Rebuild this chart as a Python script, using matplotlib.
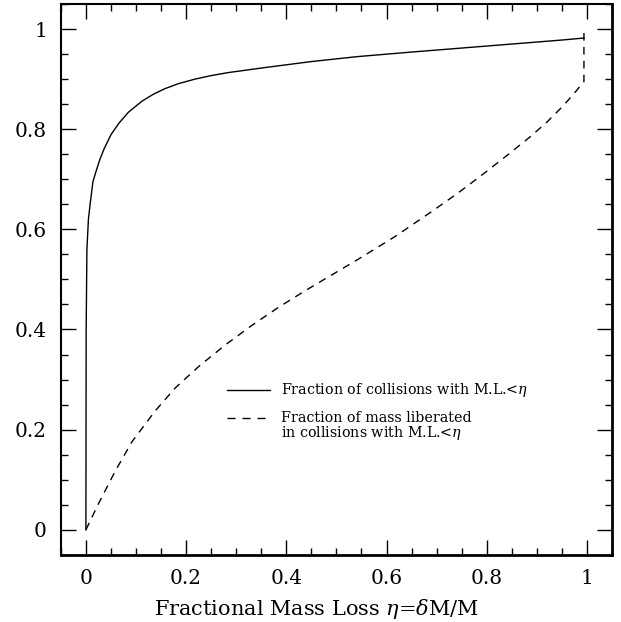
import matplotlib
matplotlib.use("Agg")
import matplotlib.pyplot as plt
from matplotlib.lines import Line2D
from matplotlib.ticker import MultipleLocator

# cumulative fraction of collisions with mass loss < eta
eta_coll = [0, 0.0005, 0.002, 0.005, 0.008, 0.014, 0.02, 0.028, 0.036, 0.05,
            0.066, 0.085, 0.112, 0.135, 0.158, 0.185, 0.218, 0.25, 0.284,
            0.357, 0.45, 0.543, 0.65, 0.75, 0.85, 0.95, 0.994]
frac_coll = [0, 0.40, 0.56, 0.62, 0.647, 0.695, 0.715, 0.74, 0.76, 0.789,
             0.812, 0.834, 0.856, 0.870, 0.881, 0.891, 0.900, 0.907, 0.913,
             0.923, 0.935, 0.945, 0.954, 0.962, 0.970, 0.978, 0.982]

# cumulative fraction of mass liberated in collisions with mass loss < eta
eta_mass = [0, 0.026, 0.059, 0.092, 0.138, 0.178, 0.225, 0.278, 0.331, 0.384,
            0.437, 0.479, 0.543, 0.616, 0.688, 0.742, 0.795, 0.841, 0.887,
            0.920, 0.954, 0.980, 0.994, 0.994]
frac_mass = [0, 0.054, 0.118, 0.176, 0.237, 0.283, 0.326, 0.369, 0.408, 0.444,
             0.477, 0.502, 0.540, 0.585, 0.634, 0.672, 0.712, 0.748, 0.785,
             0.814, 0.848, 0.878, 0.895, 1.0]

LABEL_COLL = r"Fraction of collisions with M.L.<$\eta$"
LABEL_MASS = ["Fraction of mass liberated", r"in collisions with M.L.<$\eta$"]

DASH = (0, (5.5, 4.5))

plt.rcParams["font.family"] = ["DejaVu Serif"]
plt.rcParams["mathtext.fontset"] = "dejavuserif"

fig = plt.figure(figsize=(6.21, 6.22), dpi=100)
ax = fig.add_axes([0.098, 0.108, 0.8875, 0.8856])

ax.plot(eta_coll, frac_coll, color="black", lw=1.0)
ax.plot(eta_mass, frac_mass, color="black", lw=1.0, ls=DASH)

ax.set_xlim(-0.05, 1.05)
ax.set_ylim(-0.05, 1.05)
ax.xaxis.set_major_locator(MultipleLocator(0.2))
ax.xaxis.set_minor_locator(MultipleLocator(0.05))
ax.yaxis.set_major_locator(MultipleLocator(0.2))
ax.yaxis.set_minor_locator(MultipleLocator(0.05))
ax.xaxis.set_major_formatter(plt.FuncFormatter(lambda v, p: f"{v:g}"))
ax.yaxis.set_major_formatter(plt.FuncFormatter(lambda v, p: f"{v:g}"))
ax.tick_params(which="both", direction="in", top=True, right=True,
               labelsize=14.5, width=1.0)
ax.tick_params(which="major", length=10.5)
ax.tick_params(which="minor", length=5.3)
ax.tick_params(axis="x", which="major", pad=10)
ax.tick_params(axis="y", which="major", pad=10)
for sp in ax.spines.values():
    sp.set_linewidth(1.5)
ax.spines["bottom"].set_linewidth(2.0)
ax.spines["right"].set_linewidth(2.0)

ax.set_xlabel(r"Fractional Mass Loss $\eta$=$\delta$M/M", fontsize=15)
ax.xaxis.set_label_coords(0.463, -0.077)

# hand-placed key, as in the original
tr = ax.transAxes
ax.add_line(Line2D([0.301, 0.379], [0.2995, 0.2995], transform=tr,
                   color="black", lw=1.0))
ax.add_line(Line2D([0.301, 0.379], [0.2486, 0.2486], transform=tr,
                   color="black", lw=1.0, ls=(0, (5.8, 5.0))))
ax.text(0.40, 0.2995, LABEL_COLL, transform=tr, fontsize=10.3, va="center")
ax.text(0.40, 0.2486, LABEL_MASS[0], transform=tr, fontsize=10.3, va="center")
ax.text(0.40, 0.2214, LABEL_MASS[1], transform=tr, fontsize=10.3, va="center")

fig.savefig("out.png", dpi=100)
